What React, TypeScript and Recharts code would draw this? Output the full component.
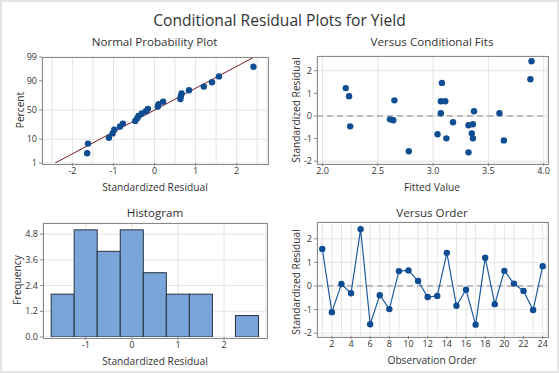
import React from 'react'
import {
  ComposedChart,
  Scatter,
  Line,
  Bar,
  XAxis,
  YAxis,
  CartesianGrid,
  ReferenceLine,
} from 'recharts'

// residuals in run order (Versus Order panel)
const observationOrder = [1, 2, 3, 4, 5, 6, 7, 8, 9, 10, 11, 12, 13, 14, 15, 16, 17, 18, 19, 20, 21, 22, 23, 24]
const orderResiduals = [1.57, -1.11, 0.08, -0.31, 2.41, -1.62, -0.39, -0.98, 0.63, 0.66, 0.21, -0.47, -0.42, 1.4, -0.84, -0.16, -1.64, 1.2, -0.77, 0.64, 0.1, -0.21, -1.02, 0.84]

// Versus Conditional Fits panel
const fittedValues = [2.21, 2.24, 2.25, 2.61, 2.64, 2.65, 2.78, 3.04, 3.07, 3.07, 3.08, 3.11, 3.12, 3.18, 3.32, 3.32, 3.35, 3.36, 3.36, 3.37, 3.6, 3.64, 3.88, 3.89]
const fitResiduals = [1.23, 0.87, -0.46, -0.15, -0.19, 0.69, -1.56, -0.81, 0.12, 0.65, 1.46, 0.65, -0.99, -0.28, -0.41, -1.61, -0.77, -0.37, -0.99, 0.21, 0.12, -1.08, 1.62, 2.42]

// normal probability plot
const nppResiduals = [-1.64, -1.62, -1.11, -1.02, -0.98, -0.84, -0.77, -0.47, -0.42, -0.39, -0.31, -0.21, -0.16, 0.08, 0.1, 0.21, 0.63, 0.64, 0.66, 0.84, 1.2, 1.4, 1.57, 2.41]
const nppPercents = [2.9, 7.0, 11.1, 15.2, 19.3, 23.4, 27.5, 31.6, 35.7, 39.8, 43.9, 48.0, 52.0, 56.1, 60.2, 64.3, 68.4, 72.5, 76.6, 80.7, 84.8, 88.9, 93.0, 97.1]
const nppLineResiduals = [-2.42, 2.43]
const nppLinePercents = [1, 99]
const percentTicks = [1, 10, 50, 90, 99]

// histogram
const binMids = [-1.5, -1, -0.5, 0, 0.5, 1, 1.5, 2, 2.5]
const binCounts = [2, 5, 4, 5, 3, 2, 2, 0, 1]
const binWidth = 0.5

const FONT = "'Open Sans', 'Noto Sans', sans-serif"
const TEXT = '#333'
const GRID = '#e4e4e4'
const DOT = '#0f4d92'
const YW = 30
const XH = 20
const PAD = 8

// inverse normal cdf (probability scale of the NPP)
function probit(p: number) {
  const a = [-39.69683028665376, 220.9460984245205, -275.9285104469687, 138.357751867269, -30.66479806614716, 2.506628277459239]
  const b = [-54.47609879822406, 161.5858368580409, -155.6989798598866, 66.80131188771972, -13.28068155288572]
  const c = [-0.007784894002430293, -0.3223964580411365, -2.400758277161838, -2.549732539343734, 4.374664141464968, 2.938163982698783]
  const d = [0.007784695709041462, 0.3224671290700398, 2.445134137142996, 3.754408661907416]
  const pl = 0.02425
  if (p < pl) {
    const q = Math.sqrt(-2 * Math.log(p))
    return (((((c[0] * q + c[1]) * q + c[2]) * q + c[3]) * q + c[4]) * q + c[5]) / ((((d[0] * q + d[1]) * q + d[2]) * q + d[3]) * q + 1)
  }
  if (p > 1 - pl) {
    const q = Math.sqrt(-2 * Math.log(1 - p))
    return -(((((c[0] * q + c[1]) * q + c[2]) * q + c[3]) * q + c[4]) * q + c[5]) / ((((d[0] * q + d[1]) * q + d[2]) * q + d[3]) * q + 1)
  }
  const q = p - 0.5
  const r = q * q
  return ((((((a[0] * r + a[1]) * r + a[2]) * r + a[3]) * r + a[4]) * r + a[5]) * q) / (((((b[0] * r + b[1]) * r + b[2]) * r + b[3]) * r + b[4]) * r + 1)
}

const nppData = nppResiduals.map((x, i) => ({ x, z: probit(nppPercents[i] / 100) }))
const nppLine = nppLineResiduals.map((x, i) => ({ x, z: probit(nppLinePercents[i] / 100) }))
const zTicks = percentTicks.map((p) => probit(p / 100))
const fitsData = fittedValues.map((x, i) => ({ x, r: fitResiduals[i] }))
const orderData = observationOrder.map((n, i) => ({ n, r: orderResiduals[i] }))
const histData = binMids.map((mid, i) => ({ mid, count: binCounts[i] }))

type Rect = { l: number; t: number; w: number; h: number }
const NPP: Rect = { l: 42, t: 57, w: 225, h: 106 }
const FITS: Rect = { l: 317, t: 56, w: 230, h: 107 }
const HIST: Rect = { l: 43, t: 223, w: 223, h: 114 }
const ORDER: Rect = { l: 317, t: 222, w: 230, h: 114 }

const tick = { fontSize: 9, fill: TEXT, fontFamily: FONT }

function Label({ x, y, size, children, rotate }: { x: number; y: number; size: number; children: React.ReactNode; rotate?: boolean }) {
  return (
    <div
      style={{
        position: 'absolute',
        left: x,
        top: y,
        transform: `translate(-50%, -50%)${rotate ? ' rotate(-90deg)' : ''}`,
        fontSize: size,
        color: TEXT,
        whiteSpace: 'nowrap',
        fontFamily: FONT,
        lineHeight: 1,
      }}
    >
      {children}
    </div>
  )
}

function Panel({ rect, data, children }: { rect: Rect; data?: any[]; children: React.ReactNode }) {
  return (
    <>
      <div style={{ position: 'absolute', left: rect.l - YW, top: rect.t - PAD }}>
        <ComposedChart
          width={rect.w + YW + PAD}
          height={rect.h + XH + PAD}
          data={data}
          margin={{ top: PAD, right: PAD, bottom: 0, left: 0 }}
          barCategoryGap={0}
          barGap={0}
        >
          {children}
        </ComposedChart>
      </div>
      <div
        style={{
          position: 'absolute',
          left: rect.l - 0.5,
          top: rect.t - 0.5,
          width: rect.w,
          height: rect.h,
          border: '1px solid #8a8a8a',
          pointerEvents: 'none',
        }}
      />
    </>
  )
}

const histDomain = [-1.93, 2.91]
// one bin width in pixels, from the x scale
const histBarSize = (HIST.w * binWidth) / (histDomain[1] - histDomain[0])

function HistBar(p: any) {
  if (!p.height || p.height <= 0) return null
  const cx = p.x + p.width / 2
  return <rect x={cx - histBarSize / 2} y={p.y} width={histBarSize} height={p.height} fill="#7aa5da" stroke="#27313d" strokeWidth={1} />
}

export default function App() {
  return (
    <div
      style={{
        position: 'absolute',
        left: 0,
        top: 0,
        width: 559,
        height: 373,
        background: '#fff',
        boxSizing: 'border-box',
        border: '2px solid #e4e4e4',
        fontFamily: FONT,
      }}
    >
      <div style={{ position: 'absolute', left: -2, top: -2, width: 559, height: 373 }}>
        <Label x={279.5} y={21} size={15.6}>Conditional Residual Plots for Yield</Label>

        {/* Normal probability plot */}
        <Label x={154.5} y={42} size={11.6}>Normal Probability Plot</Label>
        <Panel rect={NPP}>
          <CartesianGrid stroke={GRID} />
          <XAxis type="number" dataKey="x" domain={[-2.74, 2.74]} ticks={[-2, -1, 0, 1, 2]} allowDataOverflow axisLine={false} tick={tick} tickSize={3} stroke="#888" height={XH} />
          <YAxis
            type="number"
            dataKey="z"
            domain={[zTicks[0], zTicks[zTicks.length - 1]]}
            ticks={zTicks}
            allowDataOverflow
            tickFormatter={(v: number) => String(percentTicks[zTicks.findIndex((z) => Math.abs(z - v) < 1e-6)] ?? '')}
            axisLine={false}
            tick={tick}
            tickSize={3}
            stroke="#888"
            width={YW}
          />
          {[-2.5, -1.5, -0.5, 0.5, 1.5, 2.5].map((v) => (
            <ReferenceLine key={v} x={v} stroke={GRID} />
          ))}
          <Scatter data={nppLine} dataKey="z" line={{ stroke: '#7b1b22', strokeWidth: 1 }} shape={() => null} isAnimationActive={false} />
          <Scatter data={nppData} dataKey="z" fill={DOT} shape={(p: any) => <circle cx={p.cx} cy={p.cy} r={3.2} fill={DOT} />} isAnimationActive={false} />
        </Panel>
        <Label x={155} y={187} size={10.2}>Standardized Residual</Label>
        <Label x={20} y={110} size={10.2} rotate>Percent</Label>

        {/* Versus fits */}
        <Label x={432} y={42} size={11.6}>Versus Conditional Fits</Label>
        <Panel rect={FITS}>
          <CartesianGrid stroke={GRID} />
          <XAxis type="number" dataKey="x" domain={[1.95, 4.03]} ticks={[2, 2.5, 3, 3.5, 4]} tickFormatter={(v: number) => v.toFixed(1)} allowDataOverflow axisLine={false} tick={tick} tickSize={3} stroke="#888" height={XH} />
          <YAxis type="number" dataKey="r" domain={[-2.08, 2.65]} ticks={[-2, -1, 0, 1, 2]} allowDataOverflow axisLine={false} tick={tick} tickSize={3} stroke="#888" width={YW} />
          <ReferenceLine y={0} stroke="#8a8a8a" strokeDasharray="6 4" />
          <Scatter data={fitsData} dataKey="r" fill={DOT} shape={(p: any) => <circle cx={p.cx} cy={p.cy} r={3.2} fill={DOT} />} isAnimationActive={false} />
        </Panel>
        <Label x={432} y={187} size={10.2}>Fitted Value</Label>
        <Label x={296} y={110} size={10.2} rotate>Standardized Residual</Label>

        {/* Histogram */}
        <Label x={155} y={213} size={11.6}>Histogram</Label>
        <Panel rect={HIST} data={histData}>
          <CartesianGrid stroke={GRID} />
          <XAxis type="number" dataKey="mid" domain={histDomain} ticks={[-1, 0, 1, 2]} allowDataOverflow axisLine={false} tick={tick} tickSize={3} stroke="#888" height={XH} />
          <YAxis type="number" domain={[0, 5.32]} ticks={[0, 1.2, 2.4, 3.6, 4.8]} tickFormatter={(v: number) => v.toFixed(1)} allowDataOverflow axisLine={false} tick={tick} tickSize={3} stroke="#888" width={YW} />
          <Bar dataKey="count" barSize={histBarSize} shape={HistBar} isAnimationActive={false} />
        </Panel>
        <Label x={155} y={361} size={10.2}>Standardized Residual</Label>
        <Label x={17} y={280} size={10.2} rotate>Frequency</Label>

        {/* Versus order */}
        <Label x={432} y={213} size={11.6}>Versus Order</Label>
        <Panel rect={ORDER}>
          <CartesianGrid stroke={GRID} />
          <XAxis type="number" dataKey="n" domain={[0.45, 24.45]} ticks={[2, 4, 6, 8, 10, 12, 14, 16, 18, 20, 22, 24]} allowDataOverflow axisLine={false} tick={tick} tickSize={3} stroke="#888" height={XH} />
          <YAxis type="number" dataKey="r" domain={[-2.12, 2.71]} ticks={[-2, -1, 0, 1, 2]} allowDataOverflow axisLine={false} tick={tick} tickSize={3} stroke="#888" width={YW} />
          {[1, 3, 5, 7, 9, 11, 13, 15, 17, 19, 21, 23].map((v) => (
            <ReferenceLine key={v} x={v} stroke={GRID} />
          ))}
          <ReferenceLine y={0} stroke="#8a8a8a" strokeDasharray="6 4" />
          <Line data={orderData} dataKey="r" stroke="#1d5c9e" strokeWidth={1.2} dot={{ r: 3.2, fill: DOT, stroke: DOT, strokeWidth: 0 }} isAnimationActive={false} />
        </Panel>
        <Label x={432} y={360} size={10.2}>Observation Order</Label>
        <Label x={296} y={282} size={10.2} rotate>Standardized Residual</Label>
      </div>
    </div>
  )
}
